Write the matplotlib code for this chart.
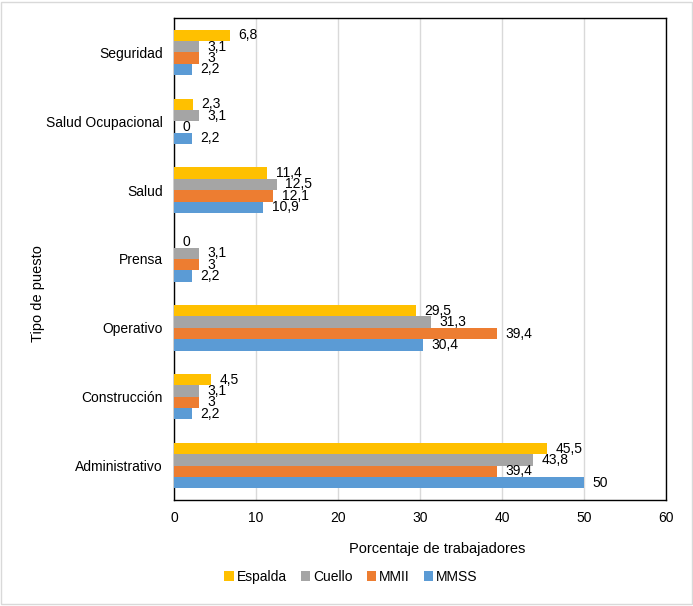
import matplotlib
matplotlib.use("Agg")
import matplotlib.pyplot as plt
import numpy as np
from matplotlib.patches import Rectangle

plt.rcParams['font.family'] = ['Liberation Sans', 'DejaVu Sans']

categories = ["Seguridad", "Salud Ocupacional", "Salud", "Prensa", "Operativo", "Construcción", "Administrativo"]
series = ["Espalda", "Cuello", "MMII", "MMSS"]
espalda = [6.8, 2.3, 11.4, 0, 29.5, 4.5, 45.5]
cuello = [3.1, 3.1, 12.5, 3.1, 31.3, 3.1, 43.8]
mmii = [3, 0, 12.1, 3, 39.4, 3, 39.4]
mmss = [2.2, 2.2, 10.9, 2.2, 30.4, 2.2, 50]
colors = ["#FFC000", "#A5A5A5", "#ED7D31", "#5B9BD5"]

def fmt(v):
    return ("%g" % v).replace(".", ",")

fig = plt.figure(figsize=(6.93, 6.06), dpi=100)
ax = fig.add_axes([174/693, (606-500)/606, (666-174)/693, (500-18)/606])

n = len(categories)
y = np.arange(n)[::-1]
h = 0.165
data = [espalda, cuello, mmii, mmss]
for i, (name, vals, c) in enumerate(zip(series, data, colors)):
    yy = y + (1.5 - i) * h
    ax.barh(yy, vals, height=h, color=c, label=name, zorder=3)
    for yv, v in zip(yy, vals):
        ax.annotate(fmt(v), (v, yv), xytext=(6, 0), textcoords="offset points",
                    ha="left", va="center", fontsize=10, color="black", zorder=4)

ax.set_xlim(0, 60)
ax.set_ylim(-0.5, n - 0.5)
ax.set_xticks(np.arange(0, 61, 10))
ax.set_yticks(y)
ax.set_yticklabels(categories)
ax.tick_params(axis='both', length=0, labelsize=10, pad=8)
ax.grid(axis='x', color="#D9D9D9", linewidth=1, zorder=0)
for s in ax.spines.values():
    s.set_color("black")
    s.set_linewidth(1)

fig.text(437/693, 1 - 549/606, "Porcentaje de trabajadores", ha="center", va="center", fontsize=10.5)
fig.text(38/693, 1 - 294/606, "Tipo de puesto", ha="center", va="center", rotation=90, fontsize=10.5)

handles, labels = ax.get_legend_handles_labels()
fig.legend(handles, labels, loc="center", bbox_to_anchor=(351/693, 1 - 577/606), ncol=4,
           frameon=False, fontsize=10, handlelength=0.7, handleheight=0.7,
           handletextpad=0.2, columnspacing=1.0)

fig.patches.append(Rectangle((0.002, 0.003), 0.996, 0.994, transform=fig.transFigure,
                             fill=False, edgecolor="#D9D9D9", linewidth=1))

fig.savefig("out.png", dpi=100)
